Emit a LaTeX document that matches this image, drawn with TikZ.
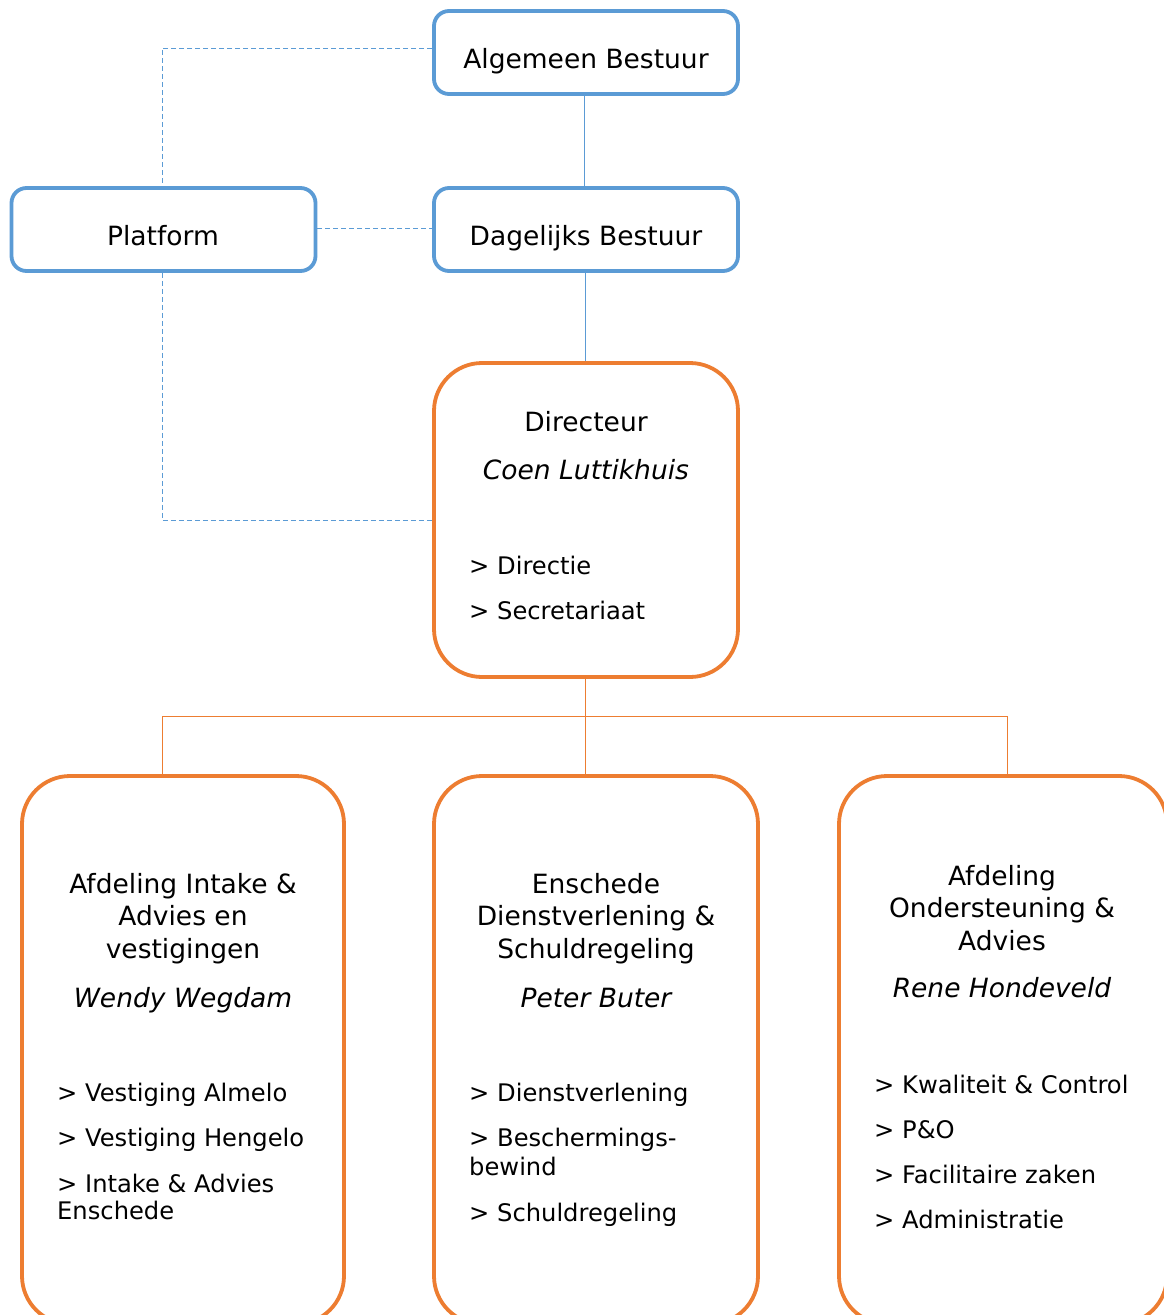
\documentclass[tikz,border=0pt]{standalone}
\usepackage{fontspec}
\setmainfont{DejaVu Sans}
\definecolor{bblue}{HTML}{5B9BD5}
\definecolor{borange}{HTML}{ED7D31}
\begin{document}
\begin{tikzpicture}[x=1pt,y=-1pt,
  bluebox/.style={draw=bblue, line width=3.8pt, rounded corners=15pt, fill=white, inner sep=0pt},
  orbox/.style={draw=borange, line width=3.8pt, rounded corners=48pt, fill=white, inner sep=0pt},
  blueline/.style={draw=bblue, line width=1pt},
  bluedash/.style={draw=bblue, line width=1pt, dash pattern=on 5pt off 3pt},
  orline/.style={draw=borange, line width=1pt},
  txt/.style={anchor=base, inner sep=0pt, font=\fontsize{26.5}{32}\selectfont},
  itx/.style={txt, font=\fontsize{26.5}{32}\selectfont\itshape},
  blt/.style={anchor=base west, inner sep=0pt, font=\fontsize{24.2}{29}\selectfont}]
\useasboundingbox (0,0) rectangle (1163,1315);
\fill[white] (0,0) rectangle (1163,1315);

% boxes
\node[bluebox, minimum width=304pt, minimum height=83pt] (ab) at (586,52.5) {};
\node[bluebox, minimum width=304pt, minimum height=83pt] (pl) at (163.5,229.5) {};
\node[bluebox, minimum width=304pt, minimum height=83pt] (db) at (586,229.5) {};
\node[orbox, minimum width=304pt, minimum height=314pt] (dir) at (586,520) {};
\node[orbox, minimum width=322pt, minimum height=548pt] (b1) at (183,1050) {};
\node[orbox, minimum width=324pt, minimum height=548pt] (b2) at (596,1050) {};
\node[orbox, minimum width=328pt, minimum height=548pt] (b3) at (1003,1050) {};

% connector points
\coordinate (j1) at (162,716);
\coordinate (j3) at (1007,716);

% connectors
\draw[blueline] ([xshift=-1.5pt]ab.south) -- ([xshift=-1.5pt]db.north);
\draw[blueline] ([xshift=-1pt]db.south) -- ([xshift=-1pt]dir.north);
\draw[bluedash] ([yshift=4pt]ab.west) -| ([xshift=-1.5pt]pl.north);
\draw[bluedash] ([yshift=1.5pt]pl.east) -- ([yshift=1.5pt]db.west);
\draw[bluedash] ([xshift=-1.5pt]pl.south) |- (dir.west);
\draw[orline] ([xshift=-1pt]dir.south) -- ([xshift=-1pt]dir.south |- b2.north);
\draw[orline] (j1 |- b1.north) -- (j1) -- (j3) -- (j3 |- b3.north);

% texts
\node[txt] (tab) at (586,68) {Algemeen Bestuur};
\node[txt] (tpl) at (163,245) {Platform};
\node[txt] (tdb) at (586,245) {Dagelijks Bestuur};

\node[txt] (d1) at (586,431) {Directeur};
\node[itx] (d2) at (586,479) {Coen Luttikhuis};
\node[blt] (d3) at (469,574) {> Directie};
\node[blt] (d4) at (469,619) {> Secretariaat};

\node[txt] (a1) at (183,893) {Afdeling Intake \&};
\node[txt] (a2) at (183,925.5) {Advies en};
\node[txt] (a3) at (183,958) {vestigingen};
\node[itx] (a4) at (183,1007) {Wendy Wegdam};
\node[blt] (a5) at (57,1101) {> Vestiging Almelo};
\node[blt] (a6) at (57,1146) {> Vestiging Hengelo};
\node[blt] (a7) at (57,1192) {> Intake \& Advies};
\node[blt] (a8) at (57,1219) {Enschede};

\node[txt] (m1) at (596,893) {Enschede};
\node[txt] (m2) at (596,925.5) {Dienstverlening \&};
\node[txt] (m3) at (596,958) {Schuldregeling};
\node[itx] (m4) at (596,1007) {Peter Buter};
\node[blt] (m5) at (469,1101) {> Dienstverlening};
\node[blt] (m6) at (469,1146) {> Beschermings-};
\node[blt] (m7) at (469,1175) {bewind};
\node[blt] (m8) at (469,1221) {> Schuldregeling};

\node[txt] (r1) at (1002,885) {Afdeling};
\node[txt] (r2) at (1002,917.5) {Ondersteuning \&};
\node[txt] (r3) at (1002,950) {Advies};
\node[itx] (r4) at (1002,997) {Rene Hondeveld};
\node[blt] (r5) at (874,1093) {> Kwaliteit \& Control};
\node[blt] (r6) at (874,1138) {> P\&O};
\node[blt] (r7) at (874,1183) {> Facilitaire zaken};
\node[blt] (r8) at (874,1228) {> Administratie};
\end{tikzpicture}
\end{document}
